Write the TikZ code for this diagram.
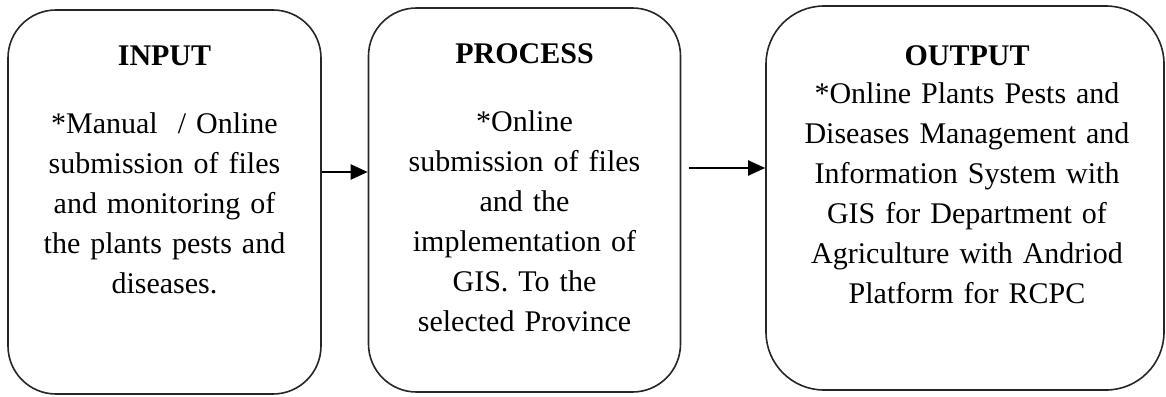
\documentclass[tikz,border=0pt]{standalone}
\usepackage{fontspec}
\setmainfont{Liberation Serif}
\usetikzlibrary{arrows.meta}

\begin{document}
\begin{tikzpicture}[x=0.5pt, y=0.5pt]
\tikzstyle{stagebox}=[rectangle, rounded corners=24pt, draw=black!85, line width=0.8pt, inner sep=0pt]
\tikzstyle{stagetext}=[align=center, inner sep=0pt, anchor=base, font=\fontsize{15}{20}\selectfont]
\tikzstyle{drawstyle}=[line width=1pt, -{Triangle[length=8.5pt,width=7.5pt]}]

\useasboundingbox (0,0) rectangle (1166,-396);

\node[stagebox, minimum width=156.5pt, minimum height=192pt] (inbox) at (164.5,-202) {};
\node[stagetext, text width=150pt] (intext) at (164.5,-65) {\textbf{INPUT}\\[14pt]
*Manual~ / Online\\ submission of files\\ and monitoring of\\ the plants pests and\\ diseases.};

\node[stagebox, minimum width=156pt, minimum height=192pt] (procbox) at (524.5,-200) {};
\node[stagetext, text width=150pt] (proctext) at (524.5,-63) {\textbf{PROCESS}\\[14pt]
*Online\\ submission of files\\ and the\\ implementation of\\ GIS. To the\\ selected Province};

\node[stagebox, rounded corners=29pt, minimum width=199pt, minimum height=192pt] (outbox) at (965,-198) {};
\node[stagetext, text width=190pt] (outtext) at (967,-65) {\textbf{OUTPUT}\\[-1pt]
*Online Plants Pests and\\ Diseases Management and\\ Information System with\\ GIS for Department of\\ Agriculture with Andriod\\ Platform for RCPC};

\draw[drawstyle] ([yshift=15pt]inbox.east) -- ([yshift=15pt]inbox.east -| procbox.west);
\draw[drawstyle] ([xshift=4pt,yshift=16pt]procbox.east) -- ([yshift=16pt]procbox.east -| outbox.west);
\end{tikzpicture}
\end{document}
